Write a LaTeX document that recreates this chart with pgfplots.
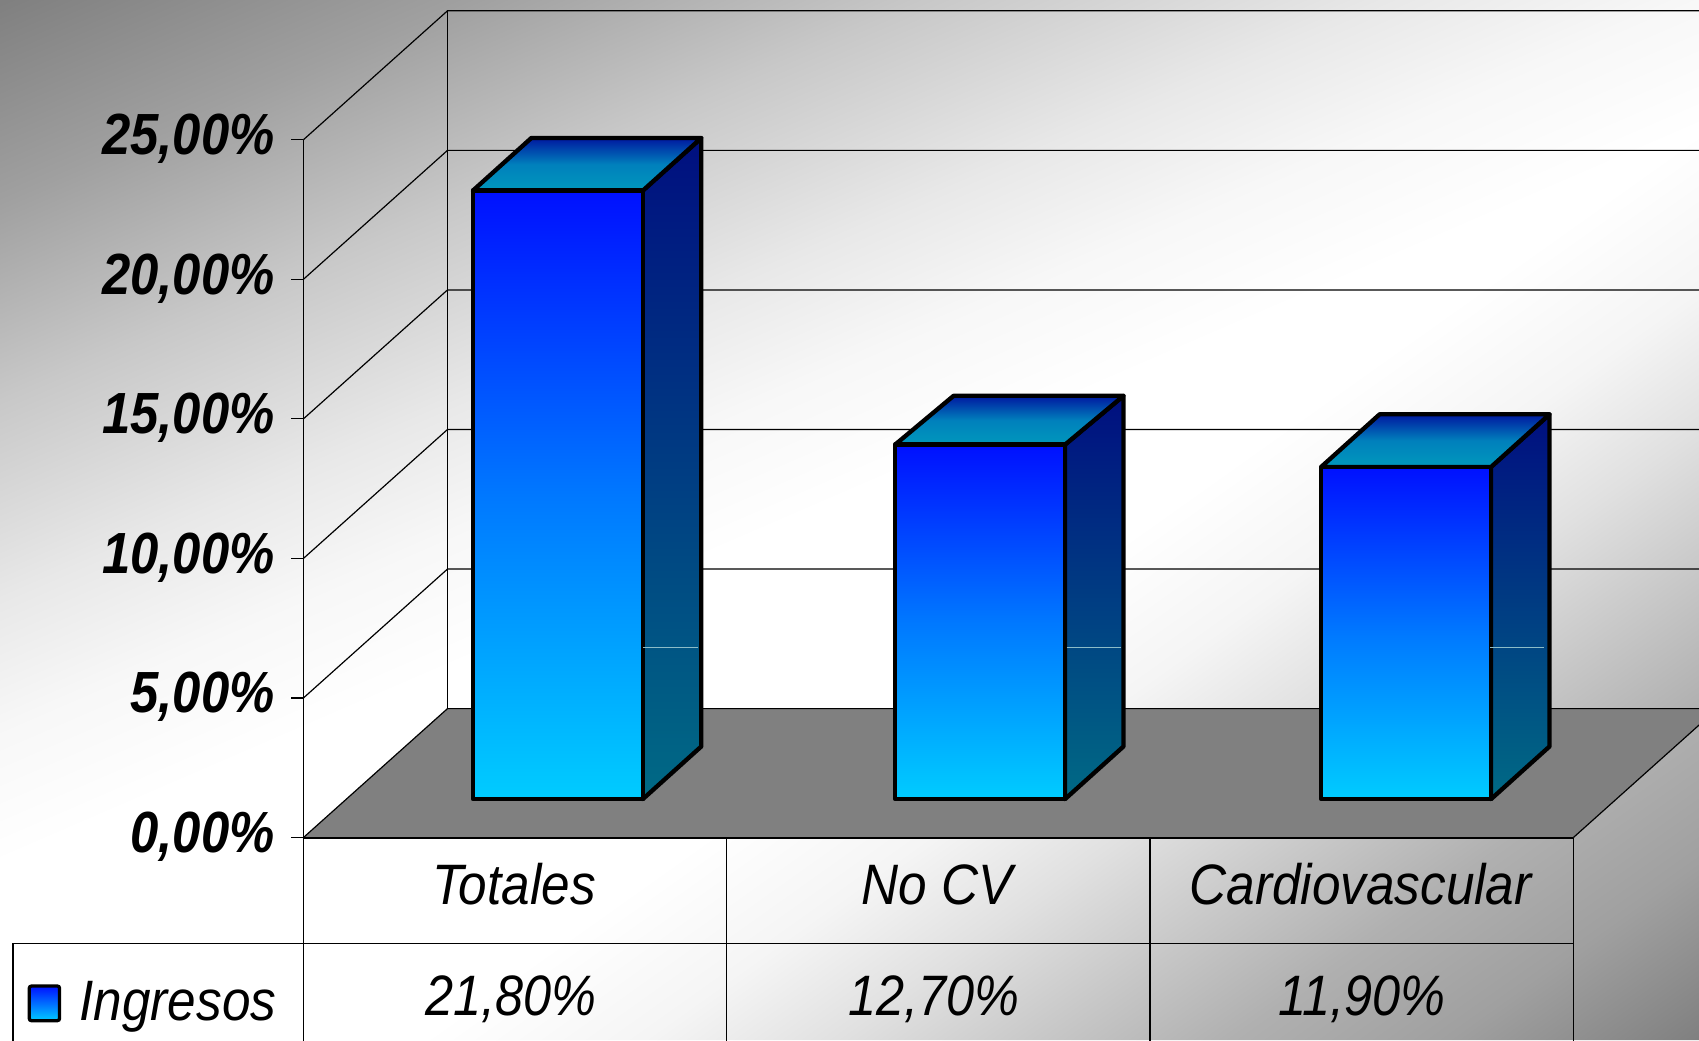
\documentclass[border=0pt]{standalone}
\usepackage{fontspec}
\setmainfont{Liberation Sans}
\usepackage{graphicx}
\usepackage{pgfplots}
\pgfplotsset{compat=1.18}
\definecolor{frontTop}{HTML}{0010FF}
\definecolor{frontMid}{HTML}{0078FF}
\definecolor{frontBot}{HTML}{00CCFF}
\definecolor{sideTop}{HTML}{000F80}
\definecolor{sideBot}{HTML}{006A85}
\definecolor{capTop}{HTML}{0018A0}
\definecolor{capMid}{HTML}{0080BC}
\definecolor{capBot}{HTML}{0098BC}
\definecolor{floorgray}{HTML}{808080}
\pgfdeclarehorizontalshading{bgup}{1800bp}{color(0bp)=(white!50!black); color(85bp)=(white!62.7!black); color(169bp)=(white!78.4!black); color(253bp)=(white!91!black); color(308bp)=(white!97!black); color(365bp)=(white)}
\pgfdeclarehorizontalshading{bglow}{2400bp}{color(0bp)=(white); color(60bp)=(white!96!black); color(112bp)=(white!88!black); color(164bp)=(white!78.4!black); color(216bp)=(white!69!black); color(274bp)=(white!62.7!black); color(324bp)=(white!53.3!black); color(341bp)=(white!50!black)}
\newcommand\sx[1]{\scalebox{0.90}[1]{#1}}
\newcommand\sv[1]{\scalebox{0.885}[1]{#1}}
\newcommand\sbf[1]{\scalebox{0.875}[1]{#1}}
\newcommand\bodyfont{\fontsize{26.3}{30}\selectfont\itshape}
\tikzset{
  barline/.style={draw=black,line width=2pt,line join=round},
  wall/.style={black,line width=0.55pt},
}
\pgfplotsset{
  side/.style={barline,top color=sideTop,bottom color=sideBot,xshift=19.75pt,yshift=17.75pt,sharp plot,no markers},
  cap/.style={barline,top color=capTop,bottom color=capBot,middle color=capMid,xshift=19.75pt,yshift=17.75pt,sharp plot,no markers},
  front/.style={ybar,bar width=78.35pt,bar shift=0pt,barline,top color=frontTop,bottom color=frontBot,middle color=frontMid,xshift=19.75pt,yshift=17.75pt},
}
\begin{document}
\begin{tikzpicture}[x=0.5pt,y=0.5pt]
\useasboundingbox (0,0) rectangle (1568,960);
\begin{scope}
\clip (0,0) rectangle (1568,960);
\fill[white] (0,0) rectangle (1568,960);
\begin{scope}
\clip (0,960) -- (1568,960) -- (1568,840) -- (0,160) -- cycle;
\node[rotate=-66.6,anchor=west,inner sep=0pt,outer sep=0pt] at (0,960) {\pgfuseshading{bgup}};
\end{scope}
\begin{scope}
\clip (385,0) -- (1568,0) -- (1568,840) -- cycle;
\node[rotate=-54.6,anchor=west,inner sep=0pt,outer sep=0pt] at (1568,840) {\pgfuseshading{bglow}};
\end{scope}
\begin{axis}[
    at={(140pt,93.5pt)},
    anchor=south west,
    scale only axis,
    width=586pt,
    height=322pt,
    clip=false,
    xmin=-0.5,
    xmax=2.5,
    ymin=0,
    ymax=25,
    axis x line=bottom,
    axis y line=left,
    axis line style={-,black,line width=0.6pt},
    xtick={0,1,2},
    xticklabels={\sx{Totales},\sx{No CV},\sx{Cardiovascular}},
    x tick label style={font=\bodyfont,anchor=base,xshift=-0.5pt,yshift=-25.5pt},
    x tick style={draw=none},
    ytick={0,5,10,15,20,25},
    yticklabels={{\sbf{0,00\%}},{\sbf{5,00\%}},{\sbf{10,00\%}},{\sbf{15,00\%}},{\sbf{20,00\%}},{\sbf{25,00\%}}},
    y tick label style={font=\fontsize{26.8}{30}\selectfont\bfseries\itshape,anchor=east,xshift=-4.25pt,yshift=0.5pt},
    y tick style={black,line width=0.5pt},
    tick align=outside,
    major tick length=5.5pt,
]
% floor and walls
\path[fill=floorgray] (axis cs:-0.5,0) -- (axis cs:-0.1596,4.62) -- (axis cs:2.8404,4.62) -- (axis cs:2.5,0) -- cycle;
\pgfplotsinvokeforeach{0,5,10,15,20,25}{
  \draw[wall] (axis cs:-0.5,#1) -- (axis cs:-0.1596,#1+4.62) -- (axis cs:2.8404,#1+4.62);
}
\draw[wall] (axis cs:-0.1596,4.62) -- (axis cs:-0.1596,29.62);
\draw[wall] (axis cs:2.5,0) -- (axis cs:2.8404,4.62);
\draw[black,line width=1pt] (axis cs:-0.5,0) -- (axis cs:2.5,0);

% table grid under the plot
\draw[wall] (axis cs:-1.186,-7.4) -- (axis cs:-1.186,-3.804) -- (axis cs:2.5,-3.804);
\draw[wall] (axis cs:-0.5,0) -- (axis cs:-0.5,-7.4);
\draw[wall] (axis cs:0.5,0) -- (axis cs:0.5,-7.4);
\draw[wall] (axis cs:1.5,0) -- (axis cs:1.5,-7.4);
\draw[wall] (axis cs:2.5,0) -- (axis cs:2.5,-7.4);

% Totales
\addplot[side] coordinates {(0.2007,0) (0.2007,21.8) (0.3389,23.687) (0.3389,1.887)} --cycle;
\addplot[cap] coordinates {(-0.2007,21.8) (0.2007,21.8) (0.3389,23.687) (-0.0625,23.687)} --cycle;
\addplot[front] coordinates {(0,21.8)};
\draw[white!55!sideBot,line width=0.4pt] (axis cs:0.3032,6.83) -- (axis cs:0.4317,6.83);

% No CV
\addplot[side,xshift=-0.5pt] coordinates {(1.2007,0) (1.2007,12.7) (1.3389,14.45) (1.3389,1.887)} --cycle;
\addplot[cap,xshift=-0.5pt] coordinates {(0.7993,12.7) (1.2007,12.7) (1.3389,14.45) (0.9375,14.45)} --cycle;
\addplot[front,xshift=-0.5pt] coordinates {(1,12.7)};
\draw[white!55!sideBot,line width=0.4pt] (axis cs:1.3032,6.83) -- (axis cs:1.4317,6.83);

% Cardiovascular
\addplot[side,xshift=0.75pt] coordinates {(2.2007,0) (2.2007,11.9) (2.3389,13.787) (2.3389,1.887)} --cycle;
\addplot[cap,xshift=0.75pt] coordinates {(1.7993,11.9) (2.2007,11.9) (2.3389,13.787) (1.9375,13.787)} --cycle;
\addplot[front,xshift=0.75pt] coordinates {(2,11.9)};
\draw[white!55!sideBot,line width=0.4pt] (axis cs:2.3032,6.83) -- (axis cs:2.4317,6.83);

% data row of the table
\node[font=\bodyfont,anchor=base] at (axis cs:-0.01,-6.38) {\sv{21,80\%}};
\node[font=\bodyfont,anchor=base] at (axis cs:0.99,-6.38) {\sv{12,70\%}};
\node[font=\bodyfont,anchor=base] at (axis cs:2,-6.38) {\sv{11,90\%}};
\path[draw=black,line width=1.5pt,rounded corners=1pt,top color=frontTop,bottom color=frontBot] (axis cs:-1.1476,-5.318) rectangle (axis cs:-1.076,-6.56);
\node[font=\bodyfont,anchor=base west,inner xsep=0pt] at (axis cs:-1.0299,-6.57) {\sx{Ingresos}};
\end{axis}
\end{scope}
\end{tikzpicture}
\end{document}
